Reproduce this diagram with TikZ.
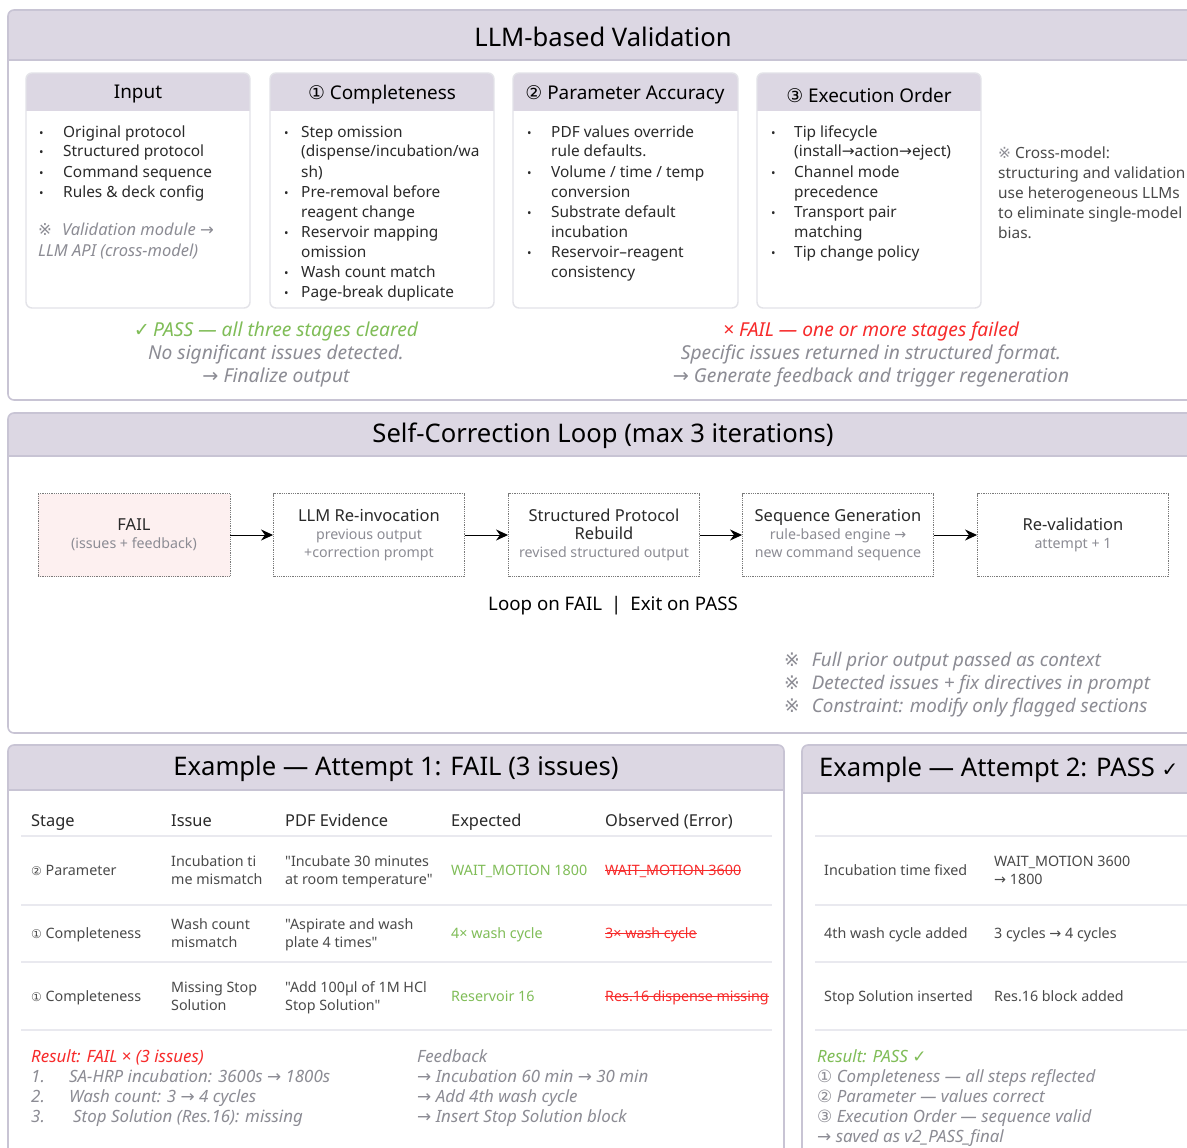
\documentclass[tikz,border=0pt]{standalone}
\usepackage{fontspec}
\setmainfont{Noto Sans}[Ligatures=TeXOff]
\newfontfamily\symf{DejaVu Sans}
\usetikzlibrary{arrows.meta}
\definecolor{hdr}{HTML}{DCD7E3}
\definecolor{bord}{HTML}{C8C4D4}
\definecolor{cardb}{HTML}{E3E3E8}
\definecolor{txt}{HTML}{2A2A2A}
\definecolor{cellc}{HTML}{4A4A4A}
\definecolor{gr}{HTML}{8C8C94}
\definecolor{okg}{HTML}{80BD58}
\definecolor{bad}{HTML}{F72B2B}
\definecolor{pinkf}{HTML}{FDF0F0}
\definecolor{rowl}{HTML}{E9E9EF}
\definecolor{dotc}{HTML}{7A7A7A}
\newcommand\sy[1]{{\symf\upshape #1}}
\newcommand\dq{\char"22\relax}
\newcommand\panel[5]{%
  \begin{scope}
    \clip[rounded corners=6] (#1,#2) rectangle (#3,#4);
    \fill[white] (#1,#2) rectangle (#3,#4);
    \fill[hdr] (#1,#2) rectangle (#3,#5);
    \draw[bord, line width=1.2] (#1,#5) -- (#3,#5);
  \end{scope}
  \draw[bord, line width=1.6, rounded corners=6] (#1,#2) rectangle (#3,#4);
}
\newcommand\card[5]{%
  \begin{scope}
    \clip[rounded corners=6] (#1,#2) rectangle (#3,#4);
    \fill[white] (#1,#2) rectangle (#3,#4);
    \fill[hdr] (#1,#2) rectangle (#3,#5);
  \end{scope}
  \draw[cardb, line width=1.4, rounded corners=6] (#1,#2) rectangle (#3,#4);
}
\newcommand\strike[1]{\draw[bad, line width=1.1] ([yshift=4.3pt]#1.base west) -- ([yshift=4.3pt]#1.base east);}
\tikzset{
  bt/.style={inner sep=0, anchor=base west, text=txt, font=\fontsize{15.4}{18}\selectfont},
  bu/.style={bt, font=\fontsize{12}{14}\selectfont},
  ttl/.style={inner sep=0, text=black, font=\fontsize{25.6}{30}\selectfont},
  ctl/.style={inner sep=0, text=black, font=\fontsize{18.9}{22}\selectfont},
  res/.style={inner sep=0, anchor=base, text=gr, font=\fontsize{19.2}{22}\selectfont\itshape},
  note/.style={inner sep=0, anchor=base west, text=gr, font=\fontsize{18.8}{22}\selectfont\itshape},
  flow/.style={draw=dotc, dash pattern=on 0.9pt off 0.9pt, line width=0.9, minimum height=83,
    minimum width=191, align=center, text=txt, font=\fontsize{16.5}{19}\selectfont},
  arr/.style={-{Stealth[length=12pt,width=11pt]}, line width=1, black},
  th/.style={inner sep=0, anchor=base west, text=txt, font=\fontsize{16.4}{19}\selectfont},
  cell/.style={inner sep=0, anchor=base west, text=cellc, font=\fontsize{14.3}{17}\selectfont},
  bot/.style={inner sep=0, anchor=base west, text=gr, font=\fontsize{16.9}{19}\selectfont\itshape},
  sep/.style={rowl, line width=2},
}
\newcommand\subt{\color{gr}\fontsize{14.2}{18}\selectfont}
\newcommand\bl[5]{\node[bu] (#1b) at (#2,#4) {•}; \node[bt] (#1) at (#3,#4) {#5};}
\newcommand\lineat[4]{\node[bt] (#1) at (#2,#3) {#4};}
\begin{document}
\begin{tikzpicture}[x=1pt,y=-1pt]
\useasboundingbox (0,0) rectangle (1187,1148);
\clip (0,0) rectangle (1187,1148);

% ================= Section 1 =================
\panel{8}{10}{1210}{400}{60}
\node[ttl] (t1) at (603,37) {LLM-based Validation};

\card{26}{73}{250}{308}{111}
\card{270}{73}{494}{308}{111}
\card{513}{73}{738}{308}{111}
\card{757}{73}{981}{308}{111}
\node[ctl] (h1) at (138,94) {Input};
\node[ctl] (h2) at (382,95) {\sy{①} Completeness};
\node[ctl] (h3) at (625,95) {\sy{②} Parameter Accuracy};
\node[ctl] (h4) at (869,95) {\sy{③} Execution Order};

\bl{i1}{39}{63}{137}{Original protocol}
\bl{i2}{39}{63}{157}{Structured protocol}
\bl{i3}{39}{63}{177}{Command sequence}
\bl{i4}{39}{63}{197}{Rules \& deck config}
\node[bt, text=gr, font=\fontsize{16.5}{19}\selectfont\itshape] (i5) at (38,235) {\sy{※}\hspace{10pt}Validation module \sy{→}};
\node[bt, text=gr, font=\fontsize{16.5}{19}\selectfont\itshape] (i6) at (38,256) {LLM API (cross-model)};

\bl{c1}{284}{301}{137}{Step omission}
\lineat{c2}{301}{157}{(dispense/incubation/wa}
\lineat{c3}{301}{177}{sh)}
\bl{c4}{284}{301}{197}{Pre-removal before}
\lineat{c5}{301}{217}{reagent change}
\bl{c6}{284}{301}{237}{Reservoir mapping}
\lineat{c7}{301}{257}{omission}
\bl{c8}{284}{301}{277}{Wash count match}
\bl{c9}{284}{301}{297}{Page-break duplicate}

\bl{p1}{527}{551}{137}{PDF values override}
\lineat{p2}{551}{157}{rule defaults.}
\bl{p3}{527}{551}{177}{Volume / time / temp}
\lineat{p4}{551}{197}{conversion}
\bl{p5}{527}{551}{217}{Substrate default}
\lineat{p6}{551}{237}{incubation}
\bl{p7}{527}{551}{257}{Reservoir–reagent}
\lineat{p8}{551}{277}{consistency}

\bl{e1}{771}{794}{137}{Tip lifecycle}
\lineat{e2}{794}{157}{(install\sy{→}action\sy{→}eject)}
\bl{e3}{771}{794}{177}{Channel mode}
\lineat{e4}{794}{197}{precedence}
\bl{e5}{771}{794}{217}{Transport pair}
\lineat{e6}{794}{237}{matching}
\bl{e7}{771}{794}{257}{Tip change policy}

\node[bt, text=cellc] (x1) at (998,158) {\textcolor{gr}{\sy{※}} Cross-model:};
\lineat{x2}{998}{178}{\textcolor{cellc}{structuring and validation}}
\lineat{x3}{998}{198}{\textcolor{cellc}{use heterogeneous LLMs}}
\lineat{x4}{998}{218}{\textcolor{cellc}{to eliminate single-model}}
\lineat{x5}{998}{238}{\textcolor{cellc}{bias.}}

\node[res, text=okg] (ps1) at (276,336) {\sy{✓}\,PASS — all three stages cleared};
\node[res] (ps2) at (276,359) {No significant issues detected.};
\node[res] (ps3) at (276,382) {\sy{→} Finalize output};
\node[res, text=bad] (fl1) at (871,336) {× FAIL — one or more stages failed};
\node[res] (fl2) at (871,359) {Specific issues returned in structured format.};
\node[res] (fl3) at (871,382) {\sy{→} Generate feedback and trigger regeneration};

% ================= Section 2 =================
\panel{8}{413}{1210}{733}{456}
\node[ttl] (t2) at (603,436) {Self-Correction Loop (max 3 iterations)};

\node[flow, fill=pinkf, minimum width=192] (fail) at (134,535)
  {FAIL\\[-1pt]{\subt(issues + feedback)}};
\node[flow] (llm) at (369,535)
  {LLM Re-invocation\\[-1pt]{\subt previous output}\\[-1pt]{\subt +correction prompt}};
\node[flow] (spr) at (604,535)
  {Structured Protocol\\[-1pt]Rebuild\\[-1pt]{\subt revised structured output}};
\node[flow] (seq) at (838,535)
  {Sequence Generation\\[-1pt]{\subt rule-based engine \sy{→}}\\[-1pt]{\subt new command sequence}};
\node[flow] (rev) at (1073,535)
  {Re-validation\\[-1pt]{\subt attempt + 1}};
\draw[arr] (fail) -- (llm);
\draw[arr] (llm) -- (spr);
\draw[arr] (spr) -- (seq);
\draw[arr] (seq) -- (rev);

\node[inner sep=0, text=black, font=\fontsize{18.7}{22}\selectfont] (loop) at (613,606) {Loop on FAIL\hspace{9pt}|\hspace{9pt}Exit on PASS};

\node[note] (n1) at (784,666) {\sy{※}\hspace{12pt}Full prior output passed as context};
\node[note] (n2) at (784,689) {\sy{※}\hspace{12pt}Detected issues + fix directives in prompt};
\node[note] (n3) at (784,712) {\sy{※}\hspace{12pt}Constraint: modify only flagged sections};

% ================= Section 3 left =================
\panel{8}{745}{784}{1170}{790}
\node[ttl] (t3) at (396,769) {Example — Attempt 1: FAIL (3 issues)};

\node[th] (hs) at (31,826) {Stage};
\node[th] (hi) at (171,826) {Issue};
\node[th] (hp) at (285,826) {PDF Evidence};
\node[th] (he) at (451,826) {Expected};
\node[th] (ho) at (605,826) {Observed (Error)};
\draw[sep] (21,836) -- (772,836);
\draw[sep] (21,905) -- (772,905);
\draw[sep] (21,962) -- (772,962);
\draw[sep] (21,1030) -- (772,1030);

\node[cell] (r1s) at (31,875) {\sy{\fontsize{12}{14}\selectfont ②} Parameter};
\node[cell] (r1i) at (171,866) {Incubation ti};
\node[cell] (r1j) at (171,884) {me mismatch};
\node[cell] (r1p) at (285,866) {\dq Incubate 30 minutes};
\node[cell] (r1q) at (285,884) {at room temperature\dq};
\node[cell, text=okg] (r1e) at (451,875) {WAIT\_MOTION 1800};
\node[cell, text=bad] (r1o) at (605,875) {WAIT\_MOTION 3600};
\strike{r1o}

\node[cell] (r2s) at (31,938) {\sy{\fontsize{12}{14}\selectfont ①} Completeness};
\node[cell] (r2i) at (171,929) {Wash count};
\node[cell] (r2j) at (171,947) {mismatch};
\node[cell] (r2p) at (285,929) {\dq Aspirate and wash};
\node[cell] (r2q) at (285,947) {plate 4 times\dq};
\node[cell, text=okg] (r2e) at (451,938) {4× wash cycle};
\node[cell, text=bad] (r2o) at (605,938) {3× wash cycle};
\strike{r2o}

\node[cell] (r3s) at (31,1001) {\sy{\fontsize{12}{14}\selectfont ①} Completeness};
\node[cell] (r3i) at (171,992) {Missing Stop};
\node[cell] (r3j) at (171,1010) {Solution};
\node[cell] (r3p) at (285,992) {\dq Add 100µl of 1M HCl};
\node[cell] (r3q) at (285,1010) {Stop Solution\dq};
\node[cell, text=okg] (r3e) at (451,1001) {Reservoir 16};
\node[cell, text=bad] (r3o) at (605,1001) {Res.16 dispense missing};
\strike{r3o}

\node[bot, text=bad] (fr) at (31,1062) {Result: FAIL × (3 issues)};
\node[bot] (f1n) at (31,1082) {1.};
\node[bot] (f1) at (69,1082) {SA-HRP incubation: 3600s \sy{→} 1800s};
\node[bot] (f2n) at (31,1102) {2.};
\node[bot] (f2) at (69,1102) {Wash count: 3 \sy{→} 4 cycles};
\node[bot] (f3n) at (31,1122) {3.};
\node[bot] (f3) at (73,1122) {Stop Solution (Res.16): missing};
\node[bot] (fb) at (417,1062) {Feedback};
\node[bot] (fb1) at (417,1082) {\sy{→} Incubation 60 min \sy{→} 30 min};
\node[bot] (fb2) at (417,1102) {\sy{→} Add 4th wash cycle};
\node[bot] (fb3) at (417,1122) {\sy{→} Insert Stop Solution block};

% ================= Section 3 right =================
\panel{802}{745}{1210}{1170}{793}
\node[ttl, anchor=west] (t4) at (819,770) {Example — Attempt 2: PASS \sy{\fontsize{20}{24}\selectfont ✓}};
\draw[sep] (815,836) -- (1200,836);
\draw[sep] (815,905) -- (1200,905);
\draw[sep] (815,962) -- (1200,962);
\draw[sep] (815,1030) -- (1200,1030);

\node[cell] (q1a) at (824,875) {Incubation time fixed};
\node[cell] (q1b) at (994,866) {WAIT\_MOTION 3600};
\node[cell] (q1c) at (994,884) {\sy{→} 1800};
\node[cell] (q2a) at (824,938) {4th wash cycle added};
\node[cell] (q2b) at (994,938) {3 cycles \sy{→} 4 cycles};
\node[cell] (q3a) at (824,1001) {Stop Solution inserted};
\node[cell] (q3b) at (994,1001) {Res.16 block added};

\node[bot, text=okg] (pr) at (817,1062) {Result: PASS \sy{✓}};
\node[bot] (pr1) at (817,1082) {\sy{①} Completeness — all steps reflected};
\node[bot] (pr2) at (817,1102) {\sy{②} Parameter — values correct};
\node[bot] (pr3) at (817,1122) {\sy{③} Execution Order — sequence valid};
\node[bot] (pr4) at (817,1142) {\sy{→} saved as v2\_PASS\_final};
\end{tikzpicture}
\end{document}
